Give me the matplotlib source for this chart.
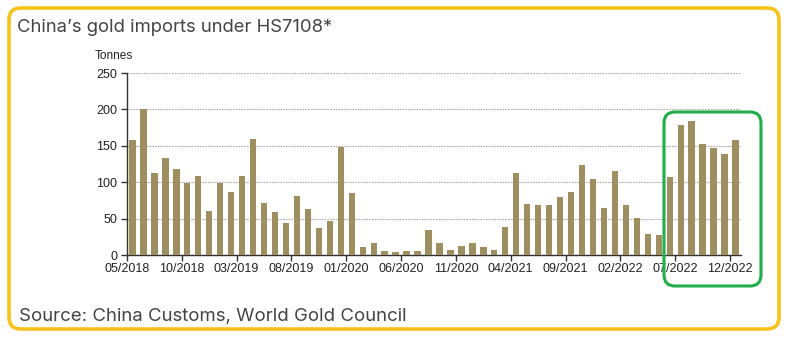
import matplotlib.pyplot as plt
from matplotlib.patches import FancyBboxPatch

# monthly gold imports, tonnes, 05/2018 .. 12/2022
imports_2018 = [158, 200, 112, 133, 118, 99, 108, 61]
imports_2019 = [99, 87, 109, 160, 71, 59, 44, 81, 63, 37, 47, 149]
imports_2020 = [85, 11, 17, 6, 4, 6, 6, 34, 17, 7, 13, 16]
imports_2021 = [11, 7, 39, 113, 70, 69, 68, 79, 86, 124, 105, 64]
imports_2022 = [115, 69, 51, 29, 28, 107, 178, 184, 153, 147, 139, 158]

tick_labels = ['05/2018', '10/2018', '03/2019', '08/2019', '01/2020', '06/2020',
               '11/2020', '04/2021', '09/2021', '02/2022', '07/2022', '12/2022']
y_ticks = [0, 50, 100, 150, 200, 250]

values = imports_2018 + imports_2019 + imports_2020 + imports_2021 + imports_2022
x = list(range(len(values)))

W, H = 800, 343
fig = plt.figure(figsize=(W / 100, H / 100), dpi=100)
fig.patch.set_facecolor('white')

ax = fig.add_axes([127 / W, 1 - 255 / H, (741 - 127) / W, (255 - 73) / H])
ax.bar(x, values, width=0.58, color='#9e8e60', zorder=3)

ax.set_xlim(-0.5, len(values) - 0.5)
ax.set_ylim(0, 250)
ax.set_yticks(y_ticks)
ax.set_xticks([i - 0.5 for i in range(0, len(values), 5)])
ax.set_xticklabels(tick_labels)

for s in ['top', 'right']:
    ax.spines[s].set_visible(False)
for s in ['left', 'bottom']:
    ax.spines[s].set_color('#333333')
    ax.spines[s].set_linewidth(1.0)

ax.tick_params(axis='both', colors='#333333', labelsize=9, length=4, width=1)
ax.tick_params(axis='x', pad=2)
ax.tick_params(axis='y', pad=3)
for lab in ax.get_xticklabels() + ax.get_yticklabels():
    lab.set_family('Liberation Sans')
    lab.set_color('#222222')

ax.yaxis.grid(True, linestyle=(0, (1.5, 1)), color='#aaaaaa', linewidth=0.8, zorder=0)
ax.set_axisbelow(True)

fig.text(95 / W, 1 - 56 / H, 'Tonnes', fontsize=8.6, family='Liberation Sans',
         color='#222222', va='center', ha='left')

# title and source
fig.text(17 / W, 1 - 27 / H, 'China\u2019s gold imports under HS7108*', fontsize=13.3,
         family='Inter', color='#444444', va='center', ha='left')
fig.text(19 / W, 1 - 316 / H, 'Source: China Customs, World Gold Council', fontsize=13.4,
         family='Inter', color='#444444', va='center', ha='left')

# yellow frame
frame = FancyBboxPatch((0.09, 0.14), 7.70, 3.21,
                       boxstyle='round,pad=0,rounding_size=0.12',
                       transform=fig.dpi_scale_trans, fill=False,
                       edgecolor='#f7c21b', linewidth=2.6, zorder=1)
fig.patches.append(frame)

# green highlight box
hl = FancyBboxPatch((6.64, 0.57), 0.97, 1.74,
                    boxstyle='round,pad=0,rounding_size=0.11',
                    transform=fig.dpi_scale_trans, fill=False,
                    edgecolor='#1fae49', linewidth=2.2, zorder=5)
fig.patches.append(hl)

fig.savefig('out.png', dpi=100)
